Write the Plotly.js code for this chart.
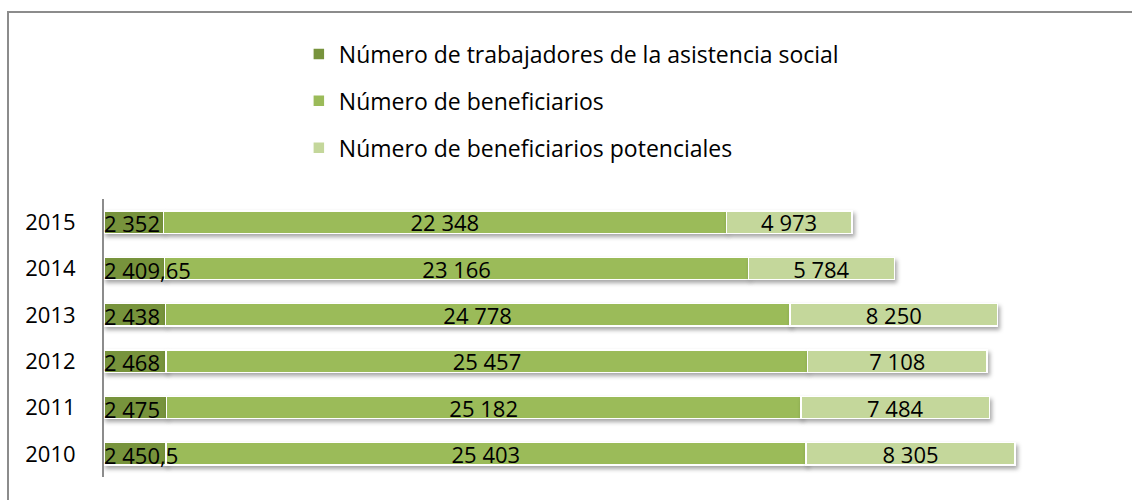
<!DOCTYPE html>
<html>
<head>
<meta charset="utf-8">
<script src="https://cdn.plot.ly/plotly-3.0.1.min.js"></script>
<style>
  html, body { margin: 0; padding: 0; background: #fff; }
  #wrap { position: relative; width: 1132px; height: 500px; }
  #chart { width: 1132px; height: 500px; }
  #frame { position: absolute; left: 7px; top: 11px; width: 1140px; height: 520px;
           border-left: 2px solid #8c8c8c; border-top: 2px solid #8c8c8c; pointer-events: none; }
  .barlayer .trace .point path { filter: drop-shadow(2px 3px 2px rgba(0,0,0,0.35)); }
</style>
</head>
<body>
<div id="wrap">
  <div id="chart"></div>
  <div id="frame"></div>
</div>
<script>
const years = ['2010', '2011', '2012', '2013', '2014', '2015'];
const trabajadores = [2450.5, 2475, 2468, 2438, 2409.65, 2352];
const beneficiarios = [25403, 25182, 25457, 24778, 23166, 22348];
const potenciales = [8305, 7484, 7108, 8250, 5784, 4973];
const trabajadoresLabels = ['2 450,5', '2 475', '2 468', '2 438', '2 409,65', '2 352'];
const beneficiariosLabels = ['25 403', '25 182', '25 457', '24 778', '23 166', '22 348'];
const potencialesLabels = ['8 305', '7 484', '7 108', '8 250', '5 784', '4 973'];
const seriesNames = ['Número de trabajadores de la asistencia social', 'Número de beneficiarios', 'Número de beneficiarios potenciales'];

const FONT = '"Open Sans", "Liberation Sans", sans-serif';
const line = {color: '#ffffff', width: 1.5};
const txt = {family: FONT, size: 22, color: '#000'};

const traces = [
  {
    type: 'bar', orientation: 'h', name: seriesNames[0], legendgroup: 'a',
    y: years, x: trabajadores,
    marker: {color: '#77933C', line: line},
    hoverinfo: 'skip'
  },
  {
    type: 'bar', orientation: 'h', name: seriesNames[1], legendgroup: 'b',
    y: years, x: beneficiarios, text: beneficiariosLabels,
    textposition: 'inside', insidetextanchor: 'middle', textangle: 0, constraintext: 'none',
    textfont: txt,
    marker: {color: '#9BBB59', line: line},
    hoverinfo: 'skip'
  },
  {
    type: 'bar', orientation: 'h', name: seriesNames[2], legendgroup: 'c',
    y: years, x: potenciales, text: potencialesLabels,
    textposition: 'inside', insidetextanchor: 'middle', textangle: 0, constraintext: 'none',
    textfont: txt,
    marker: {color: '#C4D79B', line: line},
    hoverinfo: 'skip'
  }
];

// labels of the first segment, drawn on top so they may overflow into the next segment
// (category axis: annotation y is the category's serial index)
const annotations = years.map((yr, i) => ({
  x: 0, y: i, xref: 'x', yref: 'y',
  text: trabajadoresLabels[i], showarrow: false,
  xanchor: 'left', yanchor: 'middle', xshift: -2, yshift: -1,
  font: txt
}));

const layout = {
  width: 1132, height: 500,
  margin: {l: 104, r: 20, t: 199, b: 23, pad: 0, autoexpand: false},
  paper_bgcolor: '#ffffff', plot_bgcolor: '#ffffff',
  font: {family: FONT, size: 22, color: '#000'},
  barmode: 'stack',
  bargap: 0.52,
  showlegend: true,
  annotations: annotations,
  legend: {
    xref: 'container', yref: 'container',
    x: 0.264, y: 0.935, xanchor: 'left', yanchor: 'top',
    orientation: 'v', traceorder: 'grouped', tracegroupgap: 14,
    font: {family: FONT, size: 23, color: '#000'},
    bgcolor: 'rgba(0,0,0,0)', itemclick: false
  },
  xaxis: {
    range: [0, 40000], showgrid: false, zeroline: false, showline: false,
    showticklabels: false, ticks: '', fixedrange: true
  },
  yaxis: {
    type: 'category', range: [-0.5, 5.5], showgrid: false, zeroline: false,
    showline: true, linecolor: '#8c8c8c', linewidth: 2,
    ticks: '', ticklabelstandoff: 22,
    tickfont: {family: FONT, size: 22, color: '#000'},
    fixedrange: true
  }
};

Plotly.newPlot('chart', traces, layout, {displayModeBar: false, staticPlot: true});
</script>
</body>
</html>
